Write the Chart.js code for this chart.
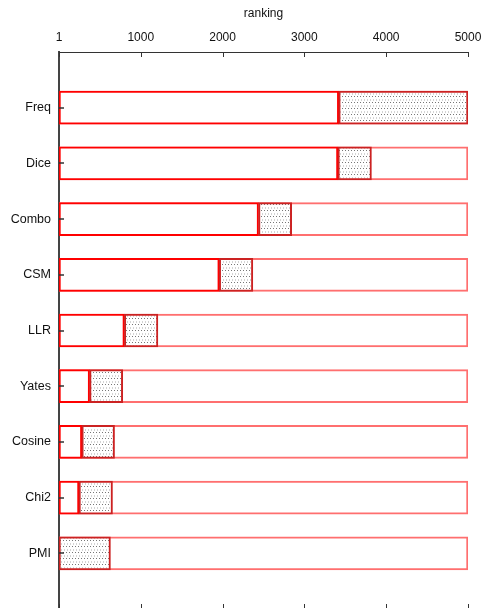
<!DOCTYPE html>
<html>
<head>
<meta charset="utf-8">
<script src="https://cdn.jsdelivr.net/npm/chart.js@4/dist/chart.umd.min.js"></script>
<style>
  html, body { margin: 0; padding: 0; background: #fff; overflow: hidden; }
  #wrap { width: 481px; height: 608px; overflow: hidden; }
</style>
</head>
<body>
<div id="wrap"><canvas id="rankChart" width="481" height="620"></canvas></div>
<script>
/* ---------- data ---------- */
const categories = ["Freq", "Dice", "Combo", "CSM", "LLR", "Yates", "Cosine", "Chi2", "PMI"];
const lowerRank = [3420, 3410, 2440, 1960, 800, 375, 280, 245, 1];
const upperRank = [5000, 3820, 2845, 2370, 1210, 780, 680, 655, 630];
const xTicks = [1, 1000, 2000, 3000, 4000, 5000];
const minRank = 1;
const maxRank = 5000;

/* ---------- helpers ---------- */
// blank slot above and below the categories
const labels = ["", ...categories, ""];
const pad = arr => [null, ...arr, null];

function dotPattern() {
  const c = document.createElement("canvas");
  c.width = 3;
  c.height = 6;
  const g = c.getContext("2d");
  g.fillStyle = "#fff";
  g.fillRect(0, 0, 3, 6);
  g.fillStyle = "#777";
  g.fillRect(0, 0, 1, 1);
  g.fillStyle = "#d4d4d4";
  g.fillRect(1, 3, 1, 2);
  return g.createPattern(c, "repeat");
}

// tick marks that point into the plot area
const innerTicks = {
  id: "innerTicks",
  afterDraw(chart) {
    const { ctx, chartArea, scales } = chart;
    ctx.save();
    ctx.strokeStyle = "#333";
    ctx.lineWidth = 1;
    ctx.beginPath();
    xTicks.forEach(v => {
      const px = Math.round(scales.x.getPixelForValue(v)) + 0.5;
      ctx.moveTo(px, chartArea.top);
      ctx.lineTo(px, chartArea.top + 5);
      ctx.moveTo(px, chartArea.bottom);
      ctx.lineTo(px, chartArea.bottom - 5);
    });
    ctx.stroke();
    ctx.lineWidth = 1.5;
    ctx.beginPath();
    categories.forEach((_, i) => {
      const py = Math.round(scales.y.getPixelForValue(i + 1));
      ctx.moveTo(chartArea.left, py);
      ctx.lineTo(chartArea.left + 5, py);
    });
    ctx.stroke();
    ctx.restore();
  }
};

/* ---------- chart ---------- */
const fullRange = pad(categories.map(() => [minRank, maxRank]));
const below = pad(lowerRank.map(v => (v > minRank ? [minRank, v] : null)));
const band = pad(lowerRank.map((v, i) => [v, upperRank[i]]));

new Chart(document.getElementById("rankChart"), {
  type: "bar",
  data: {
    labels: labels,
    datasets: [
      {
        data: band,
        backgroundColor: dotPattern(),
        borderColor: "#cc2222",
        borderWidth: 2,
        borderSkipped: false,
        grouped: false,
        barThickness: 33,
        order: 1
      },
      {
        data: below,
        backgroundColor: "#fff",
        borderColor: "#ff0000",
        borderWidth: 2,
        borderSkipped: false,
        grouped: false,
        barThickness: 33,
        order: 2
      },
      {
        data: fullRange,
        backgroundColor: "#fff",
        borderColor: "#ff6f6f",
        borderWidth: 2,
        borderSkipped: false,
        grouped: false,
        barThickness: 33,
        order: 3
      }
    ]
  },
  options: {
    indexAxis: "y",
    responsive: false,
    animation: false,
    layout: { padding: { top: 0, right: 13, bottom: 11, left: 0 } },
    plugins: {
      legend: { display: false },
      tooltip: { enabled: false }
    },
    scales: {
      x: {
        type: "linear",
        position: "top",
        min: minRank,
        max: maxRank,
        afterBuildTicks: axis => {
          axis.ticks = xTicks.map(v => ({ value: v }));
        },
        afterFit: axis => {
          axis.height = 52;
          axis.paddingLeft = 0;
          axis.paddingRight = 0;
        },
        grid: { display: false, drawTicks: false },
        border: { display: true, color: "#333", width: 1 },
        ticks: {
          color: "#111",
          padding: 7,
          maxRotation: 0,
          font: { family: "Liberation Sans", size: 12 },
          callback: v => String(v)
        },
        title: {
          display: true,
          text: "ranking",
          color: "#111",
          padding: { top: 6, bottom: 0 },
          font: { family: "Liberation Sans", size: 12 }
        }
      },
      y: {
        offset: false,
        afterFit: axis => {
          axis.width = 59;
          axis.paddingTop = 0;
          axis.paddingBottom = 0;
        },
        grid: { display: false, drawTicks: false },
        border: { display: true, color: "#444", width: 2 },
        ticks: {
          color: "#111",
          padding: 8,
          autoSkip: false,
          font: { family: "Liberation Sans", size: 12.5 }
        }
      }
    }
  },
  plugins: [innerTicks]
});
</script>
</body>
</html>
